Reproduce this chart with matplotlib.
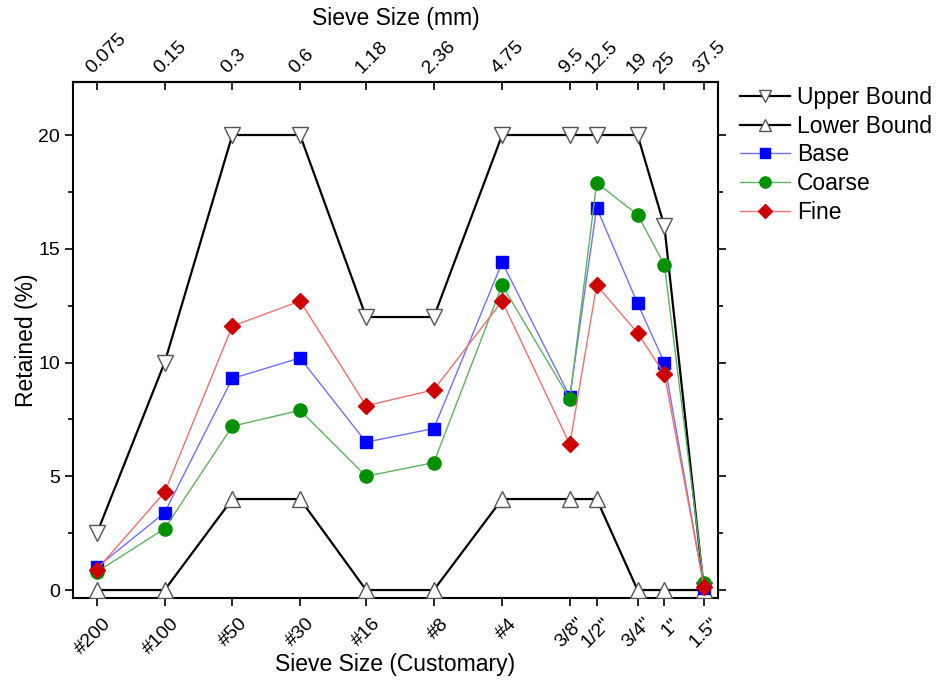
import matplotlib
matplotlib.use("Agg")
import matplotlib.pyplot as plt
import matplotlib.transforms as mtransforms
from matplotlib.ticker import NullLocator, FixedLocator, MultipleLocator, NullFormatter

plt.rcParams['font.family'] = ['Liberation Sans', 'DejaVu Sans']

sieve_mm = [0.075, 0.15, 0.3, 0.6, 1.18, 2.36, 4.75, 9.5, 12.5, 19, 25, 37.5]
mm_labels = ["0.075", "0.15", "0.3", "0.6", "1.18", "2.36", "4.75", "9.5", "12.5", "19", "25", "37.5"]
customary_labels = ["#200", "#100", "#50", "#30", "#16", "#8", "#4", "3/8\"", "1/2\"", "3/4\"", "1\"", "1.5\""]

upper = [2.5, 10, 20, 20, 12, 12, 20, 20, 20, 20, 16, 0]
lower = [0, 0, 4, 4, 0, 0, 4, 4, 4, 0, 0, 0]
base = [1.0, 3.4, 9.3, 10.2, 6.5, 7.1, 14.4, 8.5, 16.8, 12.6, 10.0, 0.1]
coarse = [0.8, 2.7, 7.2, 7.9, 5.0, 5.6, 13.4, 8.4, 17.9, 16.5, 14.3, 0.3]
fine = [0.9, 4.3, 11.6, 12.7, 8.1, 8.8, 12.7, 6.4, 13.4, 11.3, 9.5, 0.15]

fig = plt.figure(figsize=(9.42, 6.88), dpi=100)
ax = fig.add_axes([73/942, 1-598/688, (718-73)/942, (598-82)/688])

ax.plot(sieve_mm, upper, color='black', lw=1.6, marker='v', ms=11,
        mfc='white', mec='#555555', mew=1.0, label='Upper Bound', zorder=3)
ax.plot(sieve_mm, lower, color='black', lw=1.6, marker='^', ms=11,
        mfc='white', mec='#555555', mew=1.0, label='Lower Bound', zorder=3)
ax.plot(sieve_mm, base, color='#7070ff', lw=1.0, marker='s', ms=8.5,
        mfc='#0000ff', mec='#0000ff', label='Base', zorder=4)
ax.plot(sieve_mm, coarse, color='#60b060', lw=1.0, marker='o', ms=9.5,
        mfc='#009000', mec='#009000', label='Coarse', zorder=4)
ax.plot(sieve_mm, fine, color='#f07070', lw=1.0, marker='D', ms=8.5,
        mfc='#cc0000', mec='#cc0000', label='Fine', zorder=5)

ax.set_xscale('log')
ax.set_xlim(0.0587, 43.3)
ax.set_ylim(-0.35, 22.33)
ax.xaxis.set_major_locator(FixedLocator(sieve_mm))
ax.xaxis.set_minor_locator(NullLocator())
ax.xaxis.set_major_formatter(NullFormatter())
ax.xaxis.set_minor_formatter(NullFormatter())
ax.yaxis.set_major_locator(MultipleLocator(5))
ax.yaxis.set_minor_locator(MultipleLocator(2.5))
ax.tick_params(axis='y', which='both', direction='out', left=True, right=True,
               labelright=False, labelsize=14)
ax.tick_params(axis='y', which='major', length=6, width=1.2)
ax.tick_params(axis='y', which='minor', length=3.5, width=1.2)
ax.tick_params(axis='x', which='major', bottom=True, top=False, direction='out',
               length=6, width=1.2)
for s in ax.spines.values():
    s.set_linewidth(1.5)

# top axis: ticks point inward
top = ax.secondary_xaxis('top')
top.set_xticks(sieve_mm)
top.xaxis.set_minor_locator(NullLocator())
top.xaxis.set_major_formatter(NullFormatter())
top.xaxis.set_minor_formatter(NullFormatter())
top.tick_params(axis='x', direction='in', length=6, width=1.2)
top.spines['top'].set_linewidth(1.5)

blend = mtransforms.blended_transform_factory(ax.transData, ax.transAxes)
off_bot = mtransforms.ScaledTranslation(18/100, -17/100, fig.dpi_scale_trans)
off_top = mtransforms.ScaledTranslation(-14/100, 5/100, fig.dpi_scale_trans)
for xv, lab in zip(sieve_mm, customary_labels):
    ax.text(xv, 0, lab, transform=blend + off_bot, rotation=45,
            ha='right', va='top', fontsize=14, clip_on=False)
for xv, lab in zip(sieve_mm, mm_labels):
    ax.text(xv, 1, lab, transform=blend + off_top, rotation=45,
            ha='left', va='bottom', fontsize=14, clip_on=False)

ax.set_xlabel('Sieve Size (Customary)', fontsize=16.5)
ax.xaxis.set_label_coords(0.5, (598-665)/516)
ax.xaxis.label.set_va('center')
ax.set_ylabel('Retained (%)', fontsize=16.5, labelpad=0)

ax.text(0.5, (598-18)/516, 'Sieve Size (mm)', transform=ax.transAxes,
        ha='center', va='center', fontsize=16.5, clip_on=False)

ax.legend(loc='upper left', bbox_to_anchor=(740/942, 1-86/688),
          bbox_transform=fig.transFigure, frameon=False, fontsize=16.5,
          handlelength=2.2, labelspacing=0.25, handletextpad=0.3,
          borderaxespad=0, borderpad=0, markerscale=0.85)

fig.savefig('out.png', dpi=100)
